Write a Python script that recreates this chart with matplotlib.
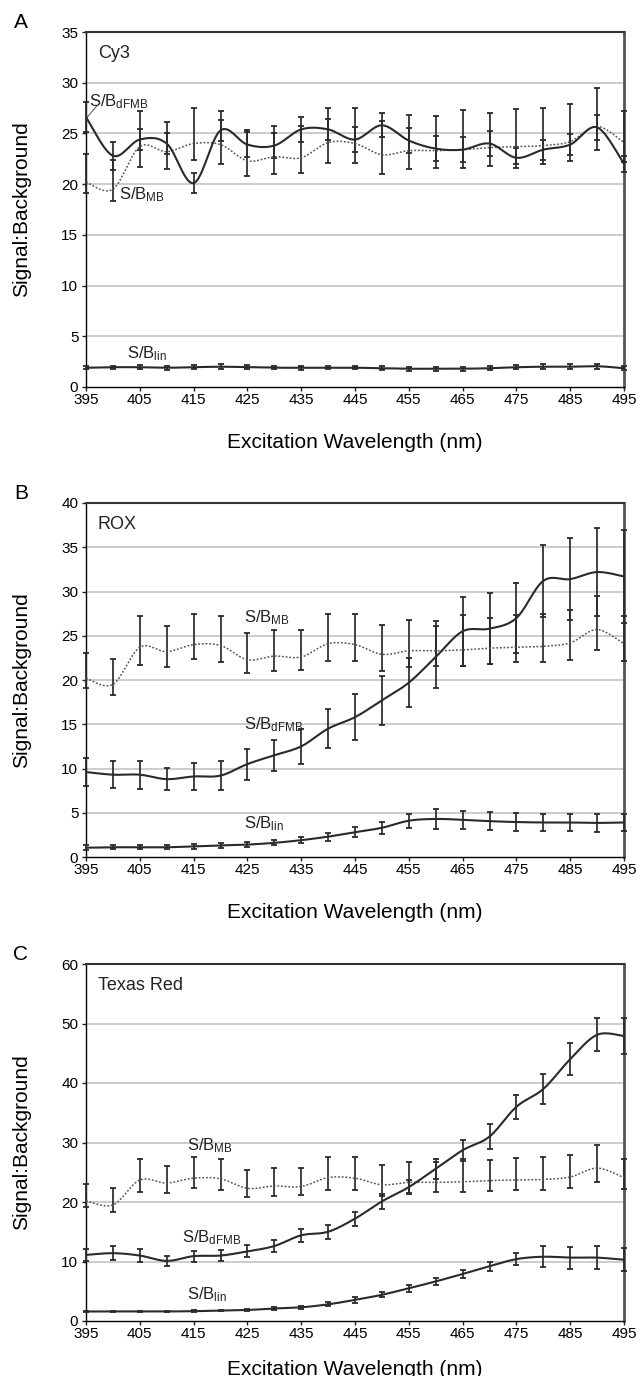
import numpy as np
import matplotlib
matplotlib.use('Agg')
import matplotlib.pyplot as plt

plt.rcParams['font.family'] = ['Liberation Sans', 'DejaVu Sans']
plt.rcParams['mathtext.default'] = 'regular'
NARROW = ['Liberation Sans Narrow', 'Liberation Sans', 'DejaVu Sans']

# excitation wavelengths (nm)
wl = [395, 400, 405, 410, 415, 420, 425, 430, 435, 440, 445,
      450, 455, 460, 465, 470, 475, 480, 485, 490, 495]

# S/B_MB (same reference in all three panels), with error bar ends
mb = [20.2, 19.5, 23.7, 23.2, 24.0, 23.9, 22.3, 22.7, 22.6, 24.1, 24.0,
      22.9, 23.3, 23.3, 23.4, 23.6, 23.7, 23.8, 24.2, 25.7, 24.1]
mb_hi = [23.0, 22.4, 27.2, 26.1, 27.5, 27.2, 25.3, 25.7, 25.7, 27.5, 27.5,
         26.2, 26.8, 26.7, 27.3, 27.0, 27.4, 27.5, 27.9, 29.5, 27.2]
mb_lo = [19.1, 18.3, 21.7, 21.5, 22.4, 22.0, 20.8, 21.0, 21.1, 22.1, 22.1,
         21.0, 21.5, 21.6, 21.6, 21.8, 22.0, 22.0, 22.3, 23.4, 22.2]

# panel A: Cy3
cy3_dfmb = [26.6, 22.8, 24.4, 24.0, 20.1, 25.3, 23.9, 23.8, 25.4, 25.4, 24.4,
            25.8, 24.3, 23.5, 23.4, 24.0, 22.6, 23.4, 23.9, 25.6, 22.0]
cy3_dfmb_err = [1.5, 1.4, 1.0, 1.0, 1.0, 1.0, 1.2, 1.2, 1.2, 1.0, 1.2,
                1.2, 1.2, 1.2, 1.2, 1.2, 1.0, 1.0, 1.0, 1.2, 0.8]
cy3_lin = [1.9, 1.95, 1.95, 1.9, 1.95, 2.0, 1.95, 1.9, 1.9, 1.9, 1.9,
           1.85, 1.8, 1.8, 1.8, 1.85, 1.95, 2.0, 2.0, 2.05, 1.85]
cy3_lin_err = [0.15, 0.15, 0.2, 0.2, 0.2, 0.25, 0.2, 0.15, 0.2, 0.15, 0.15,
               0.2, 0.2, 0.2, 0.2, 0.2, 0.2, 0.25, 0.25, 0.25, 0.2]

# panel B: ROX
rox_dfmb = [9.6, 9.3, 9.3, 8.8, 9.1, 9.2, 10.5, 11.5, 12.5, 14.5, 15.8,
            17.7, 19.7, 22.6, 25.5, 25.8, 27.0, 31.2, 31.4, 32.2, 31.7]
rox_dfmb_err = [1.6, 1.5, 1.6, 1.25, 1.5, 1.6, 1.75, 1.75, 2.0, 2.2, 2.6,
                2.8, 2.8, 3.5, 3.9, 4.0, 4.0, 4.1, 4.6, 5.0, 5.3]
rox_lin = [1.05, 1.1, 1.1, 1.1, 1.2, 1.3, 1.4, 1.6, 1.9, 2.3, 2.8,
           3.3, 4.1, 4.3, 4.2, 4.05, 3.95, 3.9, 3.9, 3.85, 3.9]
rox_lin_err = [0.3, 0.25, 0.25, 0.2, 0.25, 0.25, 0.3, 0.3, 0.35, 0.45, 0.55,
               0.7, 0.8, 1.1, 1.05, 1.05, 1.0, 1.0, 1.0, 1.0, 1.0]

# panel C: Texas Red
txr_dfmb = [11.1, 11.4, 11.0, 10.1, 10.9, 11.0, 11.7, 12.6, 14.4, 15.0, 17.2,
            20.1, 22.5, 25.6, 28.7, 31.0, 36.0, 39.0, 44.0, 48.1, 47.9]
txr_dfmb_err = [1.0, 1.2, 1.05, 0.9, 0.9, 0.95, 1.0, 1.0, 1.1, 1.15, 1.2,
                1.3, 1.2, 1.7, 1.8, 2.1, 2.0, 2.5, 2.7, 2.8, 3.1]
txr_lin = [1.6, 1.6, 1.6, 1.6, 1.65, 1.75, 1.85, 2.1, 2.3, 2.8, 3.55,
           4.4, 5.5, 6.65, 7.9, 9.2, 10.4, 10.8, 10.65, 10.65, 10.3]
txr_lin_err = [0.15, 0.15, 0.15, 0.15, 0.15, 0.15, 0.15, 0.2, 0.3, 0.35, 0.45,
               0.45, 0.6, 0.65, 0.75, 0.8, 1.0, 1.8, 1.85, 1.9, 1.9]

xticks = [395, 405, 415, 425, 435, 445, 455, 465, 475, 485, 495]


def smooth(x, y, n=16):
    """Excel-like smoothed line (cubic bezier through every point)."""
    x = np.asarray(x, float)
    y = np.asarray(y, float)
    px = np.concatenate([[x[0]], x, [x[-1]]])
    py = np.concatenate([[y[0]], y, [y[-1]]])
    t = np.linspace(0, 1, n + 1)[1:]
    sx, sy = [x[0]], [y[0]]
    for i in range(len(x) - 1):
        p0 = np.array([px[i], py[i]])
        p1 = np.array([px[i + 1], py[i + 1]])
        p2 = np.array([px[i + 2], py[i + 2]])
        p3 = np.array([px[i + 3], py[i + 3]])
        c1 = p1 + (p2 - p0) / 6.0
        c2 = p2 - (p3 - p1) / 6.0
        for tt in t:
            b = ((1 - tt) ** 3) * p1 + 3 * ((1 - tt) ** 2) * tt * c1 \
                + 3 * (1 - tt) * tt ** 2 * c2 + tt ** 3 * p2
            sx.append(b[0])
            sy.append(b[1])
    return sx, sy


def ebar(ax, y, err):
    ax.errorbar(wl, y, yerr=err, fmt='none', ecolor='#2a2a2a',
                elinewidth=1.25, capsize=2.2, capthick=1.3, clip_on=False, zorder=3)


def panel(ax, dfmb, dfmb_err, lin, lin_err, ymax, ystep, name, letter, labels, xlab_y):
    mb_err = [np.subtract(mb, mb_lo), np.subtract(mb_hi, mb)]
    ebar(ax, mb, mb_err)
    ebar(ax, dfmb, dfmb_err)
    ebar(ax, lin, lin_err)
    x, y = smooth(wl, mb)
    ax.plot(x, y, color='#555555', lw=1.1, ls=(0, (1.2, 1.2)), zorder=4)
    x, y = smooth(wl, dfmb)
    ax.plot(x, y, color='#2a2a2a', lw=1.5, zorder=5)
    x, y = smooth(wl, lin)
    ax.plot(x, y, color='#2a2a2a', lw=1.5, zorder=5)

    ax.set_xlim(395, 495)
    ax.set_ylim(0, ymax)
    ax.set_xticks(xticks)
    ax.set_yticks(np.arange(0, ymax + 1, ystep))
    for v in np.arange(ystep, ymax, ystep):
        ax.axhline(v, color='#c8c8c8', lw=1.3, zorder=1)
    for lab in ax.get_xticklabels() + ax.get_yticklabels():
        lab.set_family(NARROW)
        lab.set_fontsize(11)
    ax.tick_params(direction='out', length=3, width=1, color='#222222')
    ax.tick_params(axis='x', pad=1.5)
    ax.tick_params(axis='y', pad=2.5)
    ax.spines['top'].set_color('#333333')
    ax.spines['top'].set_linewidth(1.5)
    ax.spines['right'].set_color('#555555')
    ax.spines['right'].set_linewidth(2.0)
    ax.spines['left'].set_linewidth(1.0)
    ax.spines['bottom'].set_linewidth(1.0)

    ax.set_ylabel('Signal:Background', fontsize=15)
    ax.yaxis.set_label_coords(-0.102, 0.5)
    ax.set_xlabel('Excitation Wavelength (nm)', fontsize=15)
    ax.xaxis.set_label_coords(0.5, xlab_y)

    ax.text(0.022, 0.94, name, transform=ax.transAxes, family=NARROW,
            fontsize=13, ha='left', va='center', color='#222222')
    ax.text(-0.121, 1.027, letter, transform=ax.transAxes, fontsize=15,
            ha='center', va='center')
    for txt, xx, yy in labels:
        ax.text(xx, yy, txt, family=NARROW, fontsize=12, color='#222222',
                ha='left', va='center', zorder=6)


fig = plt.figure(figsize=(6.36, 13.76), dpi=100)
W, H = 636.0, 1376.0
boxes = [(32, 387), (503, 857), (964, 1321)]
axes = [fig.add_axes([86 / W, 1 - b / H, 538 / W, (b - t) / H]) for t, b in boxes]

sb_d = r'S/B$_{dFMB}$'
sb_m = r'S/B$_{MB}$'
sb_l = r'S/B$_{lin}$'

panel(axes[0], cy3_dfmb, cy3_dfmb_err, cy3_lin, cy3_lin_err, 35, 5, 'Cy3', 'A',
      [(sb_d, 395.6, 28.1), (sb_m, 401.2, 19.0), (sb_l, 402.6, 3.3)], -0.13)
axes[0].plot([395.2, 397.0], [26.6, 27.7], color='#666666', lw=0.8)
panel(axes[1], rox_dfmb, rox_dfmb_err, rox_lin, rox_lin_err, 40, 5, 'ROX', 'B',
      [(sb_m, 424.4, 27.0), (sb_d, 424.4, 14.9), (sb_l, 424.4, 3.8)], -0.13)
panel(axes[2], txr_dfmb, txr_dfmb_err, txr_lin, txr_lin_err, 60, 10, 'Texas Red', 'C',
      [(sb_m, 413.8, 29.5), (sb_d, 412.9, 14.0), (sb_l, 413.8, 4.4)], -0.108)

fig.savefig('out.png', dpi=100)
